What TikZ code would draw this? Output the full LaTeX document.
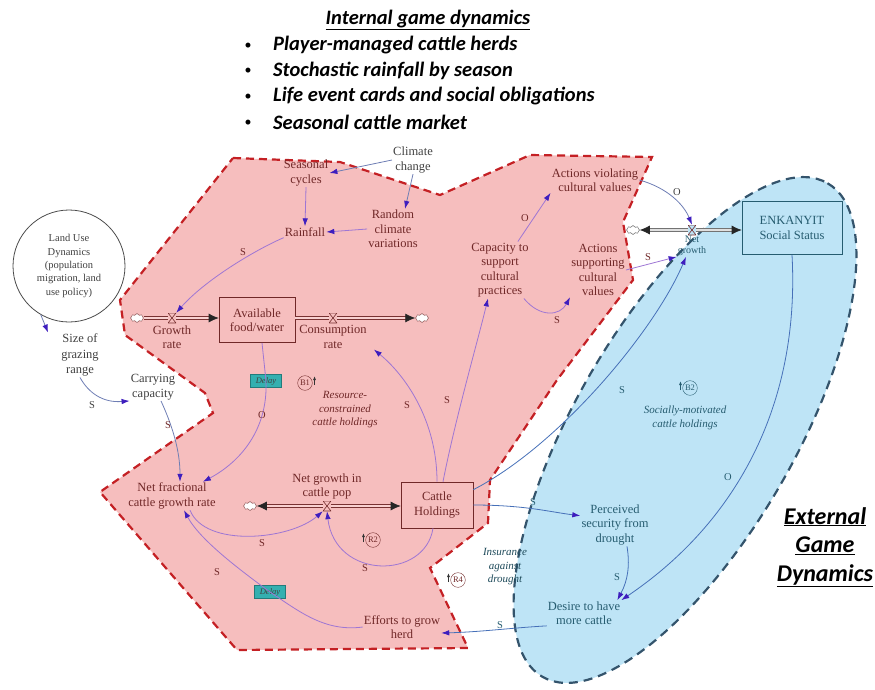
\documentclass[tikz,border=0pt]{standalone}
\usepackage{fontspec}
\setmainfont{Liberation Serif}
\newfontfamily\calibri{Carlito}
\usetikzlibrary{arrows.meta, positioning, shapes.symbols, calc}

\definecolor{pinkzone}{RGB}{246,190,190}
\definecolor{redline}{RGB}{196,32,36}
\definecolor{bluezone}{RGB}{190,228,246}
\definecolor{blueline}{RGB}{52,84,108}
\definecolor{redtext}{RGB}{112,40,40}
\definecolor{bluetext}{RGB}{38,92,112}
\definecolor{arccol}{RGB}{158,118,212}
\definecolor{bluearc}{RGB}{70,112,184}
\definecolor{outarc}{RGB}{110,126,180}
\definecolor{headcol}{RGB}{62,30,190}
\definecolor{pipecol}{RGB}{120,50,50}
\definecolor{delaycol}{RGB}{52,176,176}

\begin{document}
\begin{tikzpicture}[
    x=1pt, y=-1pt,
    font=\fontsize{12.5}{14.5}\selectfont,
    var/.style={align=center, text=redtext, inner sep=1pt},
    outvar/.style={align=center, text=black!75, inner sep=1pt},
    extvar/.style={align=center, text=bluetext, inner sep=1pt},
    stock/.style={draw=redtext, line width=0.6pt, fill=pinkzone, align=center,
                  text=redtext, minimum width=76pt, minimum height=45pt},
    extbox/.style={stock, draw=bluetext, fill=bluezone, text=bluetext,
                   minimum width=100pt, minimum height=53pt},
    sink/.style={cloud, cloud puffs=8, aspect=1.5, draw=redtext!80, fill=white,
                 line width=0.5pt, minimum width=13pt, minimum height=9pt, inner sep=0pt},
    valve/.style={minimum width=8pt, minimum height=10pt, inner sep=0pt, fill=pinkzone,
                  path picture={\draw[line width=0.6pt, draw=pipecol]
                    (path picture bounding box.north west) -- (path picture bounding box.north east)
                    -- (path picture bounding box.south west) -- (path picture bounding box.south east) -- cycle;}},
    pipe/.style={draw=pipecol, double=pinkzone!70!white, double distance=2pt, line width=0.7pt},
    gpipe/.style={pipe, draw=black!55, double=black!12},
    caus/.style={draw=arccol, line width=0.8pt, -{Latex[length=8pt,width=5.5pt,color=headcol]}},
    pol/.style={font=\fontsize{10.5}{10.5}\selectfont, text=redtext, inner sep=0pt},
    bpol/.style={pol, text=bluetext},
    delaybox/.style={fill=delaycol, draw=delaycol!70!black, line width=0.3pt,
                     font=\fontsize{8.5}{9}\selectfont\itshape, text=black!75,
                     minimum width=31pt, minimum height=13pt, inner sep=1pt},
    loopname/.style={circle, draw=redtext, line width=0.4pt, font=\fontsize{8.5}{9}\selectfont,
                     text=redtext, inner sep=1.2pt},
    looptext/.style={font=\fontsize{11}{13.5}\selectfont\itshape, align=center, text=redtext},
    looptip/.style={-{Latex[length=4pt,width=3pt]}, line width=0.9pt, draw=black!80},
]
\useasboundingbox (0,0) rectangle (875,689);

% --- zones ---
\draw[blueline, line width=2.2pt, dash pattern=on 9pt off 6pt, fill=bluezone]
    [rotate around={60:(685,430)}] (685,430) ellipse [x radius=285, y radius=110];
\draw[redline, line width=2.2pt, dash pattern=on 8pt off 5pt, fill=pinkzone]
    (233,158) -- (340,162) -- (440,195) -- (530,155) -- (652,157) -- (623,222)
    -- (633,280) -- (557,380) -- (490,480) -- (488,523) -- (430,568) -- (468,648)
    -- (237,650) -- (100,492) -- (213,413) -- (205,393) -- (125,335) -- (120,300) -- cycle;

% --- titles ---
\node[font=\calibri\bfseries\itshape\fontsize{20.5}{25}\selectfont] (intitle) at (428,20)
    {\underline{Internal game dynamics}};
\foreach \txt [count=\i] in {Player-managed cattle herds, Stochastic rainfall by season,
    Life event cards and social obligations, Seasonal cattle market} {
  \node[font=\calibri\fontsize{14}{16}\selectfont] (dot\i) at (248,{46+25.7*(\i-1)}) {\textbullet};
  \node[font=\calibri\bfseries\itshape\fontsize{20.5}{25}\selectfont, anchor=west, inner sep=0pt]
      (item\i) at (273,{45+25.7*(\i-1)}) {\txt};
}
\node[font=\calibri\bfseries\itshape\fontsize{24}{28.5}\selectfont, align=center] (extitle) at (825,547)
    {\underline{External}\\\underline{Game}\\\underline{Dynamics}};

% --- outside the zones ---
\node[outvar, circle, draw=black!70, line width=0.8pt, minimum size=112pt,
      font=\fontsize{10.5}{13.3}\selectfont] (landuse) at (69,266)
    {Land Use\\Dynamics\\(population\\migration, land\\use policy)};
\node[outvar, font=\fontsize{12.5}{15.5}\selectfont] (grazing) at (80,355) {Size of\\grazing\\range};
\node[outvar] (carrying) at (153,387) {Carrying\\capacity};
\node[outvar] (climate) at (413,160) {Climate\\change};

% --- resource side ---
\node[var] (seasonal) at (306,173) {Seasonal\\cycles};
\node[var] (random) at (393,229) {Random\\climate\\variations};
\node[var] (rainfall) at (305,232) {Rainfall};
\node[stock] (food) at (257,320) {Available\\food/water};
\node[sink] (cloudA) at (137,318) {};
\node[sink] (cloudB) at (422,318) {};
\node[var] (netfrac) at (172,496) {Net fractional\\cattle growth rate};
\node[stock, minimum width=72pt, minimum height=46pt] (cattle) at (437,505) {Cattle\\Holdings};
\node[sink] (cloudC) at (250,506) {};
\node[var] (efforts) at (402,627) {Efforts to grow\\herd};
\node[delaybox] (delay1) at (266,381) {Delay};
\node[delaybox] (delay2) at (270,592) {Delay};

% --- cultural side ---
\node[var] (capacity) at (500,270) {Capacity to\\support\\cultural\\practices};
\node[var] (violating) at (595,180) {Actions violating\\cultural values};
\node[var] (supporting) at (598,270) {Actions\\supporting\\cultural\\values};

% --- external side ---
\node[extbox] (enk) at (792,228) {ENKANYIT\\Social Status};
\node[sink, draw=black!60] (cloudD) at (633,230) {};
\node[extvar] (perceived) at (615,525) {Perceived\\security from\\drought};
\node[extvar] (desire) at (584,613) {Desire to have\\more cattle};

% --- flows ---
\draw[pipe, -{Latex[length=10pt,width=9pt,color=black!85]}] (cloudA) -- (cloudA -| food.west);
\draw[pipe, -{Latex[length=10pt,width=9pt,color=black!85]}] (food.east |- cloudB) -- (cloudB);
\draw[pipe, {Latex[length=10pt,width=9pt,color=black!85]}-{Latex[length=10pt,width=9pt,color=black!85]}]
    (cloudC) -- (cloudC -| cattle.west);
\draw[gpipe, {Latex[length=10pt,width=9pt,color=black!85]}-{Latex[length=10pt,width=9pt,color=black!85]}]
    (cloudD) -- (cloudD -| enk.west);
\node[valve] (valveA) at (172,318) {};
\node[valve] (valveB) at (333,318) {};
\node[valve] (valveC) at (327,506) {};
\node[valve, fill=bluezone] (valveD) at (692,230) {};
\node[var, below=1pt of valveA] (growth) {Growth\\rate};
\node[var, below=1pt of valveB] (consumption) {Consumption\\rate};
\node[var, above=0pt of valveC] (netgrowth) {Net growth in\\cattle pop};
\node[extvar, below=0pt of valveD, font=\fontsize{10}{10.5}\selectfont] (netgrowthD) {Net\\growth};

% --- loops ---
\node[loopname] (b1) at (305,383) {B1};
\node[looptext] (b1text) at (345,410) {Resource-\\constrained\\cattle holdings};
\node[loopname] (r2) at (373,540) {R2};
\node[loopname] (r4) at (458,580) {R4};
\node[looptext, text=bluetext!80!black] (r4text) at (505,567) {Insurance\\against\\drought};
\node[loopname, draw=bluetext, text=bluetext] (b2) at (690,388) {B2};
\node[looptext, text=bluetext] (b2text) at (685,418) {Socially-motivated\\cattle holdings};
\draw[looptip] ([xshift=2pt,yshift=-2pt]b1.east) -- ([xshift=2pt,yshift=7pt]b1.east);
\draw[looptip] ([xshift=-2pt,yshift=-2pt]r2.west) -- ([xshift=-2pt,yshift=7pt]r2.west);
\draw[looptip] ([xshift=-2pt,yshift=-2pt]r4.west) -- ([xshift=-2pt,yshift=7pt]r4.west);
\draw[looptip, draw=bluetext] ([xshift=-2pt,yshift=-2pt]b2.west) -- ([xshift=-2pt,yshift=7pt]b2.west);

% --- causal links ---
\draw[caus, draw=outarc] (landuse.240) -- ([xshift=-12pt]grazing.north west);
\draw[caus, draw=outarc] (grazing.south) .. controls (88,392) and (102,403) .. (carrying.south west)
    node[pol, text=black!75] at (92,405) {S};
\draw[caus, draw=outarc] ([xshift=8pt]carrying.south) .. controls (172,425) and (180,450) .. ([xshift=8pt]netfrac.north)
    node[pol] at (168,425) {S};
\draw[caus] ([xshift=5pt]food.south) -- (delay1.center) .. controls (268,430) and (240,462) .. ([xshift=-14pt]netfrac.north east)
    node[pol] at (262,415) {O};
\draw[caus] (rainfall.south west) .. controls (255,250) and (205,280) .. (valveA.north east)
    node[pol] at (243,252) {S};
\draw[caus] (seasonal.south) -- (rainfall.north);
\draw[caus, draw=outarc] (climate.west) -- (seasonal.east);
\draw[caus, draw=outarc] (climate.south) -- ([xshift=12pt]random.north);
\draw[caus] (random.west) -- (rainfall.east);
\draw[caus] (cattle.north) .. controls (437,420) and (405,375) .. ([xshift=6pt]consumption.south east)
    node[pol] at (407,405) {S};
\draw[caus] ([xshift=6pt]cattle.north) .. controls (455,420) and (478,340) .. ([xshift=-12pt]capacity.south)
    node[pol] at (447,400) {S};
\draw[caus] ([xshift=18pt]netfrac.south) .. controls (205,548) and (290,540) .. (valveC.south west)
    node[pol] at (262,543) {S};
\draw[caus] ([xshift=-4pt]cattle.south) .. controls (425,580) and (335,580) .. (valveC.south)
    node[pol] at (365,568) {S};
\draw[caus] (efforts.west) .. controls (325,632) and (300,612) .. (delay2.center)
    .. controls (240,570) and (200,540) .. ([xshift=12pt]netfrac.south)
    node[pol] at (217,572) {S};
\draw[caus] ([xshift=-12pt]capacity.north east) -- (violating.south west)
    node[pol] at (525,218) {O};
\draw[caus] ([xshift=-6pt]capacity.south east) .. controls (540,318) and (560,316) .. (supporting.south west)
    node[pol] at (557,320) {S};
\draw[caus, draw=outarc] (violating.east) .. controls (668,188) and (684,205) .. (valveD.north)
    node[pol, text=black!75] at (677,192) {O};
\draw[caus] (supporting.east) -- (netgrowthD.south west)
    node[pol] at (648,257) {S};
\draw[caus, draw=bluearc] ([yshift=-8pt]cattle.north east) .. controls (560,445) and (655,330) .. ([xshift=-6pt]netgrowthD.south)
    node[bpol] at (622,390) {S};
\draw[caus, draw=bluearc] (enk.south) .. controls (800,400) and (740,520) .. (desire.north east)
    node[bpol] at (728,477) {O};
\draw[caus, draw=bluearc] (cattle.east) .. controls (525,505) and (550,512) .. (perceived.165)
    node[bpol] at (533,502) {S};
\draw[caus, draw=bluearc] ([xshift=12pt]perceived.south) .. controls (630,565) and (628,580) .. ([xshift=-4pt]desire.north east)
    node[bpol] at (617,577) {S};
\draw[caus, draw=bluearc] (desire.south west) .. controls (510,628) and (480,632) .. ([yshift=-6pt]efforts.east)
    node[bpol] at (500,625) {S};

\end{tikzpicture}
\end{document}
